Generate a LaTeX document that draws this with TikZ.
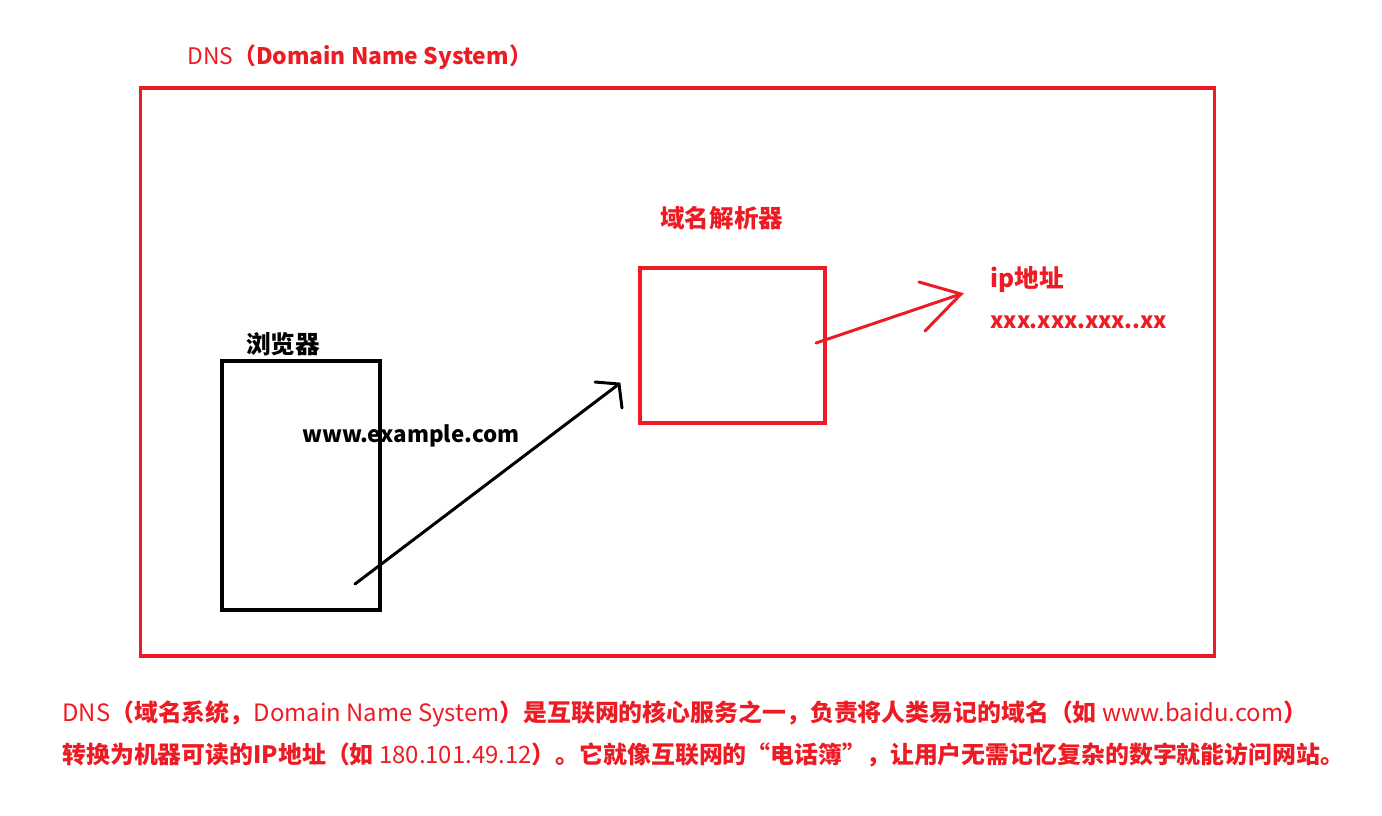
\documentclass[tikz,border=0pt]{standalone}
\usepackage{fontspec}
\setmainfont{Noto Sans CJK SC}
\usetikzlibrary{positioning}
\definecolor{paintred}{RGB}{237,28,36}

\begin{document}
\begin{tikzpicture}
  [x=0.02cm,y=-0.02cm,
   redbox/.style={rectangle,draw=paintred,line width=1.8pt,inner sep=0pt},
   blackbox/.style={rectangle,draw=black,line width=1.8pt,inner sep=0pt},
   txt/.style={anchor=west,inner sep=0pt,font=\fontsize{14}{16}\selectfont\bfseries},
   latin/.style={anchor=west,inner sep=0pt,font=\fontsize{12.7}{15}\selectfont\bfseries},
   small/.style={anchor=west,inner sep=0pt,font=\fontsize{13}{15}\selectfont},
   note/.style={anchor=west,inner sep=0pt,font=\fontsize{13.6}{16}\selectfont},
   stroke/.style={line width=1.7pt,line cap=round}]

  \useasboundingbox (0,0) rectangle (1382,815);

  \node[small,text=paintred] (dns) at (187,57) {DNS\textbf{（Domain Name System）}};
  \node[redbox,minimum width=21.5cm,minimum height=11.36cm] (frame) at (677.5,372) {};

  \node[blackbox,minimum width=3.16cm,minimum height=4.98cm] (browser) at (301,485.5) {};
  \node[txt] (browsertxt) at (246,344) {浏览器};
  \node[latin] (url) at (302,436) {www.example.com};

  \node[redbox,minimum width=3.7cm,minimum height=3.1cm] (resolver) at (732.5,345.5) {};
  \node[txt,text=paintred] (resolvertxt) at (660,218) {域名解析器};

  \node[txt,text=paintred] (ip) at (990,280) {ip地址};
  \node[latin,text=paintred] (addr) at (990,322) {xxx.xxx.xxx..xx};

  % hand drawn arrows
  \coordinate (q1) at (355,584);
  \coordinate (q2) at (619,384);
  \draw[stroke] (q1) -- (q2);
  \draw[stroke] (595,382) -- (q2) -- (622,408);

  \coordinate (r1) at (816,343);
  \coordinate (r2) at (961,294);
  \draw[stroke,paintred] (r1) -- (r2);
  \draw[stroke,paintred] (919,282) -- (r2) -- (925,331);

  \node[note,text=paintred] (line1) at (62,714)
    {DNS\textbf{（域名系统，}Domain Name System\textbf{）是互联网的核心服务之一，负责将人类易记的域名（如} www.baidu.com\textbf{）}};
  \node[note,text=paintred] (line2) at (62,755)
    {\textbf{转换为机器可读的IP地址（如} 180.101.49.12\textbf{）。它就像互联网的“电话簿”，让用户无需记忆复杂的数字就能访问网站。}};

\end{tikzpicture}
\end{document}
